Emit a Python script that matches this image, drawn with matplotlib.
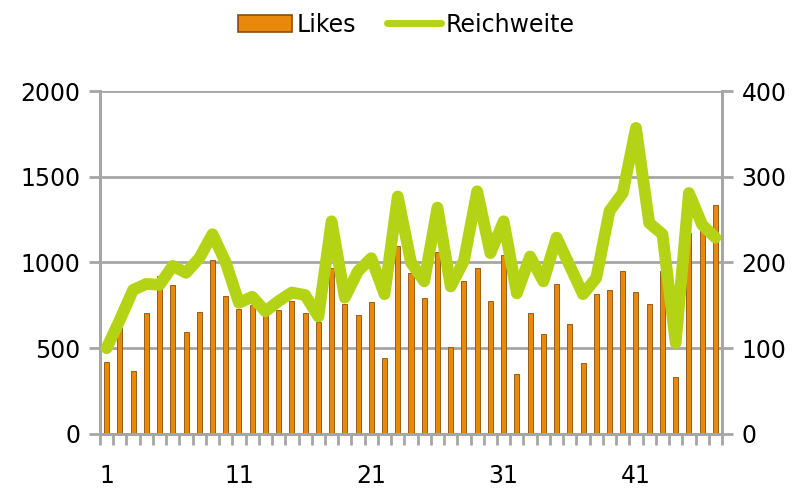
import matplotlib
matplotlib.use("Agg")
import matplotlib.pyplot as plt
from matplotlib.lines import Line2D
from matplotlib.patches import Patch
import numpy as np

plt.rcParams['font.family'] = ['DejaVu Sans']

weeks = list(range(1, 48))
likes = [420, 620, 370, 706, 924, 866, 593, 710, 1012, 803,
         726, 751, 687, 720, 774, 706, 650, 970, 755, 691,
         770, 444, 1099, 936, 792, 1060, 508, 891, 967, 774,
         1043, 352, 706, 584, 872, 644, 412, 817, 837, 953,
         827, 755, 950, 333, 1172, 1190, 1335]
reichweite = [100, 133, 168, 175, 174, 196, 188, 205, 233, 200,
              153, 160, 143, 155, 165, 162, 137, 248, 159, 190,
              205, 163, 277, 200, 178, 264, 172, 202, 283, 211,
              248, 164, 207, 178, 229, 196, 163, 182, 260, 281,
              357, 246, 233, 106, 281, 244, 229]
tick_labels = ['1', '11', '21', '31', '41']

grey = '#a6a6a6'
orange = '#e8890c'
edge = '#8a4f05'
green = '#b5d315'

fig = plt.figure(figsize=(8, 4.92), dpi=100)
ax = fig.add_axes([0.125, 0.118, 0.7775, 0.697])
ax2 = ax.twinx()

x = np.arange(len(weeks))
ax.bar(x, likes, width=0.38, color=orange, edgecolor=edge, linewidth=0.6, zorder=3)
ax2.plot(x, reichweite, color=green, linewidth=8.5, solid_joinstyle='round',
         solid_capstyle='round', zorder=4)

ax.set_xlim(-0.5, len(weeks) - 0.5)
ax.set_ylim(0, 2000)
ax2.set_ylim(0, 400)
ax.set_yticks(np.arange(0, 2001, 500))
ax2.set_yticks(np.arange(0, 401, 100))

# tick marks on category boundaries, labels on the categories
ax.set_xticks(np.arange(-0.5, len(weeks), 1))
ax.set_xticklabels([])
ax.set_xticks([weeks.index(int(t)) for t in tick_labels], minor=True)
ax.set_xticklabels(tick_labels, minor=True)
ax.tick_params(axis='x', which='major', length=8, width=2, color=grey)
ax.tick_params(axis='x', which='minor', length=0, pad=22, labelsize=17)
ax.tick_params(axis='y', length=8, width=2, color=grey, labelsize=17, pad=6)
ax2.tick_params(axis='y', length=8, width=2, color=grey, labelsize=17, pad=6)

ax.grid(axis='y', color=grey, linewidth=2, zorder=0)
ax.set_axisbelow(True)
for a in (ax, ax2):
    a.spines['top'].set_visible(False)
    for s in ('left', 'right', 'bottom'):
        a.spines[s].set_color(grey)
        a.spines[s].set_linewidth(2)

ax.set_zorder(ax2.get_zorder() - 1)
ax2.patch.set_visible(False)

handles = [Patch(facecolor=orange, edgecolor=edge, linewidth=1.2),
           Line2D([], [], color=green, linewidth=5, solid_capstyle='round')]
fig.legend(handles, ['Likes', 'Reichweite'], loc='center',
           bbox_to_anchor=(0.508, 0.95), ncol=2, frameon=False, fontsize=17,
           handlelength=2.3, handleheight=0.7, handletextpad=0.2,
           columnspacing=1.3)

fig.savefig('out.png', dpi=100)
